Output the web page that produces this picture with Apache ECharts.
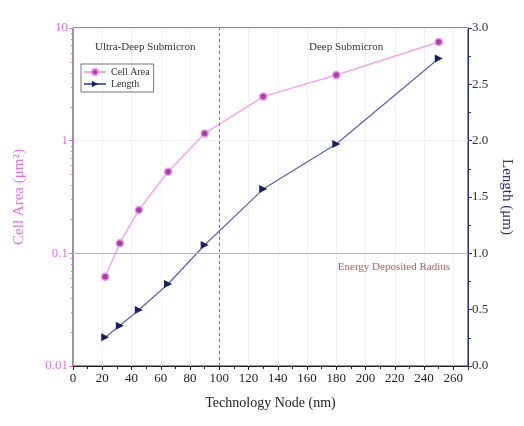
<!DOCTYPE html>
<html><head><meta charset="utf-8">
<script src="https://cdn.jsdelivr.net/npm/echarts@6/dist/echarts.min.js"></script>
<style>html,body{margin:0;padding:0;background:#fff}#c{width:524px;height:426px}</style>
</head><body><div id="c"></div>
<script>
var nodes = [22, 32, 45, 65, 90, 130, 180, 250];
var cellArea = [0.062, 0.123, 0.243, 0.53, 1.16, 2.46, 3.83, 7.5];
var lengthUm = [0.255, 0.358, 0.497, 0.728, 1.074, 1.57, 1.97, 2.73];
var leftTicks = ['0.01', '0.1', '1', '10'];
var rightTicks = ['0.0', '0.5', '1.0', '1.5', '2.0', '2.5', '3.0'];
var FONT = '"Liberation Serif", "DejaVu Serif", serif';
var chart = echarts.init(document.getElementById('c'));
function pairs(xs, ys){ return xs.map(function(x,i){return [x, ys[i]];}); }
chart.setOption({
  animation: false,
  textStyle: {fontFamily: FONT},
  grid: {left: 73, right: 56, top: 28, bottom: 60, show: true, borderColor: '#222', borderWidth: 1, backgroundColor: 'transparent'},
  legend: {
    left: 81, top: 64, orient: 'vertical', itemGap: 2, itemWidth: 22, itemHeight: 8,
    padding: [3, 4, 3, 2], borderColor: '#777', borderWidth: 1,
    textStyle: {fontFamily: FONT, fontSize: 10, color: '#333'},
    data: ['Cell Area', 'Length']
  },
  xAxis: {
    type: 'value', min: 0, max: 270, interval: 20,
    name: 'Technology Node (nm)', nameLocation: 'middle', nameGap: 30,
    nameTextStyle: {fontFamily: FONT, fontSize: 14, color: '#222'},
    axisLine: {show: true, lineStyle: {color: '#222', width: 1}},
    axisTick: {show: true, inside: false, length: 4, lineStyle: {color: '#222'}},
    minorTick: {show: true, splitNumber: 2, length: 3, lineStyle: {color: '#222'}},
    axisLabel: {fontFamily: FONT, fontSize: 13, color: '#222', margin: 6, showMaxLabel: false},
    splitLine: {show: true, lineStyle: {color: '#f0f0f0'}}
  },
  yAxis: [{
    type: 'log', logBase: 10, min: 0.01, max: 10, position: 'left',
    name: 'Cell Area (μm²)', nameLocation: 'middle', nameGap: 46,
    nameTextStyle: {fontFamily: FONT, fontSize: 15, color: '#e070e0'},
    axisLine: {show: true, lineStyle: {color: '#e070e0', width: 1}},
    axisTick: {show: true, length: 4, lineStyle: {color: '#e070e0'}},
    minorTick: {show: true, splitNumber: 9, length: 2, lineStyle: {color: '#e070e0'}},
    axisLabel: {fontFamily: FONT, fontSize: 13, color: '#e070e0', margin: 5,
      formatter: function(v){ var i = Math.round(Math.log10(v)) + 2; return leftTicks[i] || ''; }},
    splitLine: {show: true, lineStyle: {color: '#f0f0f0'}}
  }, {
    type: 'value', min: 0, max: 3, interval: 0.5, position: 'right',
    name: 'Length (μm)', nameLocation: 'middle', nameGap: 30, nameRotate: -90,
    nameTextStyle: {fontFamily: FONT, fontSize: 15, color: '#2a3070'},
    axisLine: {show: true, lineStyle: {color: '#2a3070', width: 1}},
    axisTick: {show: true, length: 4, lineStyle: {color: '#2a3070'}},
    minorTick: {show: true, splitNumber: 2, length: 3, lineStyle: {color: '#2a3070'}},
    axisLabel: {fontFamily: FONT, fontSize: 13, color: '#333', margin: 4,
      formatter: function(v){ return rightTicks[Math.round(v*2)] || ''; }},
    splitLine: {show: false}
  }],
  series: [{
    name: 'Cell Area', type: 'line', yAxisIndex: 0, data: pairs(nodes, cellArea),
    symbol: 'circle', symbolSize: 7,
    lineStyle: {color: '#f3a6ee', width: 1.5},
    itemStyle: {color: '#a2449e', borderColor: '#f28ef0', borderWidth: 1.5},
    markLine: {
      silent: true, symbol: 'none',
      data: [{
        yAxis: 0.1,
        lineStyle: {color: '#d7a8ad', type: 'solid', width: 1.2},
        label: {show: true, position: 'insideEndBottom', formatter: 'Energy Deposited Radius',
          fontFamily: FONT, fontSize: 11, color: '#b85a5a', distance: [18, 8]}
      }, {
        xAxis: 100,
        lineStyle: {color: '#777', type: [3, 3], width: 1},
        label: {show: false}
      }]
    }
  }, {
    name: 'Length', type: 'line', yAxisIndex: 1, data: pairs(nodes, lengthUm),
    symbol: 'triangle', symbolRotate: -90, symbolSize: 8,
    lineStyle: {color: '#5a64a8', width: 1.2},
    itemStyle: {color: '#1a2060'}
  }],
  graphic: [
    {type: 'text', left: 95, top: 42, z: 100, style: {text: 'Ultra-Deep Submicron', font: '11px ' + FONT, fill: '#333'}},
    {type: 'text', left: 309, top: 42, z: 100, style: {text: 'Deep Submicron', font: '11px ' + FONT, fill: '#333'}}
  ]
});
</script></body></html>
